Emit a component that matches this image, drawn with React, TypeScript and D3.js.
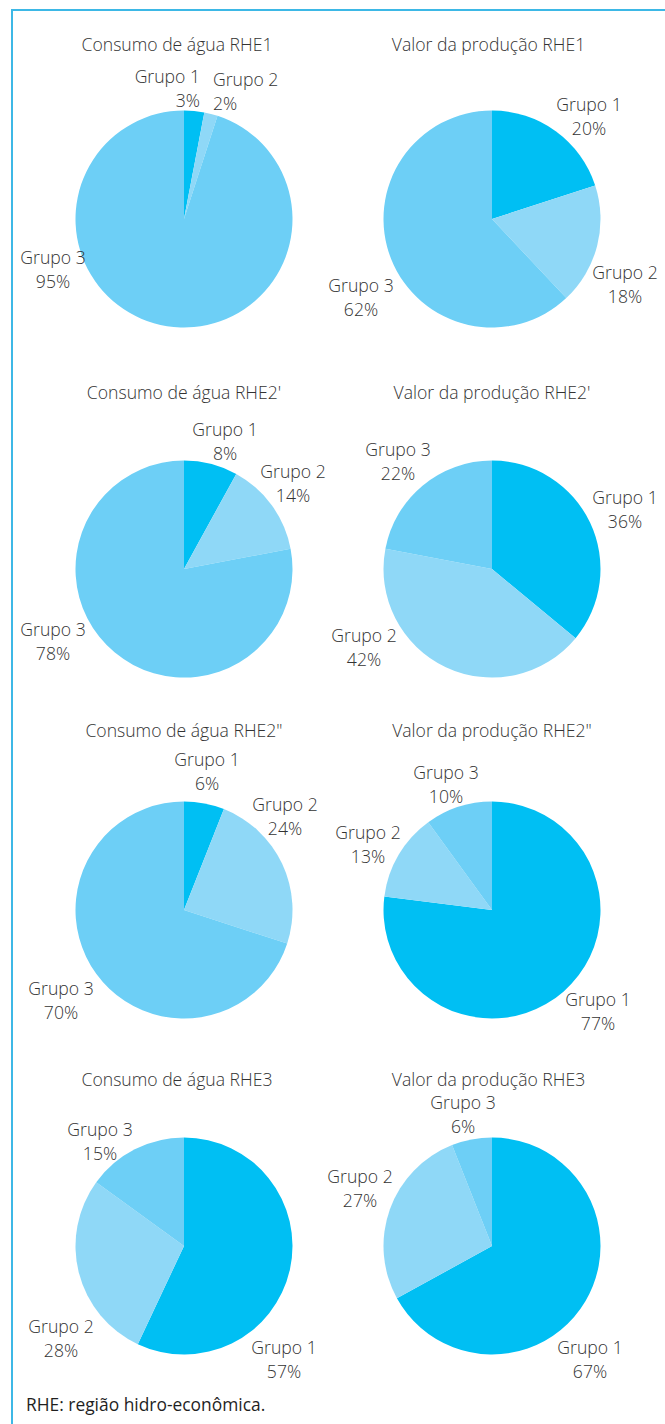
import React from "react";
import * as d3 from "d3";

const regions = ["RHE1", "RHE2'", "RHE2\"", "RHE3"];
const groups = ["Grupo 1", "Grupo 2", "Grupo 3"];
const consumoAgua = [
  [3, 2, 95],
  [8, 14, 78],
  [6, 24, 70],
  [57, 28, 15],
];
const valorProducao = [
  [20, 18, 62],
  [36, 42, 22],
  [77, 13, 10],
  [67, 27, 6],
];
const footnote = "RHE: região hidro-econômica.";

// layout (not data)
const W = 665;
const H = 1424;
const colX = [184, 492];
const rowY = [219, 569, 910, 1246];
const titleY = [45, 393, 731, 1080];
const titleDx = [-7, 0, 0, -7];
const R = 108.5;
const colors = ["#00BFF3", "#8FD8F7", "#6DCFF6"];

type LP = [number, number, string];
// label offsets relative to pie centre: [dx, dy of first line centre, anchor]
const labelPos: LP[][][] = [
  [
    [[16, -142, "end"], [29, -139, "start"], [-131, 39, "middle"]],
    [[97, -114, "middle"], [133, 54, "middle"], [-131, 67, "middle"]],
  ],
  [
    [[41, -139, "middle"], [109, -97, "middle"], [-131, 61, "middle"]],
    [[133, -71, "middle"], [-128, 67, "middle"], [-94, -119, "middle"]],
  ],
  [
    [[23, -150, "middle"], [101, -105, "middle"], [-123, 79, "middle"]],
    [[106, 90, "middle"], [-124, -77, "middle"], [-46, -137, "middle"]],
  ],
  [
    [[100, 102, "middle"], [-123, 81, "middle"], [-84, -116, "middle"]],
    [[98, 102, "middle"], [-132, -69, "middle"], [-29, -143, "middle"]],
  ],
];

const FONT = "'Open Sans', 'Noto Sans', sans-serif";
const TEXT = "#333333";
const FS = 17.6;

const pieGen = d3.pie<number>().sort(null).value((d) => d);
const arcGen = d3.arc<d3.PieArcDatum<number>>().innerRadius(0).outerRadius(R);

function Pie({ title, values, cx, cy, ty, tdx, labels }: { title: string; values: number[]; cx: number; cy: number; ty: number; tdx: number; labels: LP[] }) {
  const arcs = pieGen(values);
  return (
    <g>
      <text x={cx + tdx} y={ty + 6} textAnchor="middle" fontFamily={FONT} fontWeight={300} fontSize={FS} fill={TEXT}>
        {title}
      </text>
      <g transform={`translate(${cx},${cy})`}>
        {arcs.map((a, i) => (
          <path key={i} d={arcGen(a) || ""} fill={colors[i]} />
        ))}
        {arcs.map((a, i) => {
          const [dx, dy, anchor] = labels[i];
          return (
            <text key={"l" + i} x={dx} y={dy + 6} textAnchor={anchor as any} fontFamily={FONT} fontWeight={300} fontSize={FS} fill={TEXT}>
              <tspan x={dx}>{groups[i]}</tspan>
              <tspan x={dx} dy={24}>{values[i]}%</tspan>
            </text>
          );
        })}
      </g>
    </g>
  );
}

export default function App() {
  return (
    <svg width={W} height={H} style={{ position: "absolute", left: 0, top: 0, background: "#fff" }}>
      <rect x={0} y={0} width={W} height={H} fill="#fff" />
      <line x1={11} y1={10} x2={W} y2={10} stroke="#3DB8E6" strokeWidth={2} />
      <line x1={12} y1={9} x2={12} y2={H} stroke="#3DB8E6" strokeWidth={2} />
      {regions.map((r, ri) => (
        <g key={r}>
          <Pie title={`Consumo de água ${r}`} values={consumoAgua[ri]} cx={colX[0]} cy={rowY[ri]} ty={titleY[ri]} tdx={titleDx[ri]} labels={labelPos[ri][0]} />
          <Pie title={`Valor da produção ${r}`} values={valorProducao[ri]} cx={colX[1]} cy={rowY[ri]} ty={titleY[ri]} tdx={titleDx[ri] / 2} labels={labelPos[ri][1]} />
        </g>
      ))}
      <text x={26} y={1411} fontFamily={FONT} fontWeight={400} fontSize={17.4} fill="#1f1f1f">
        {footnote}
      </text>
    </svg>
  );
}
